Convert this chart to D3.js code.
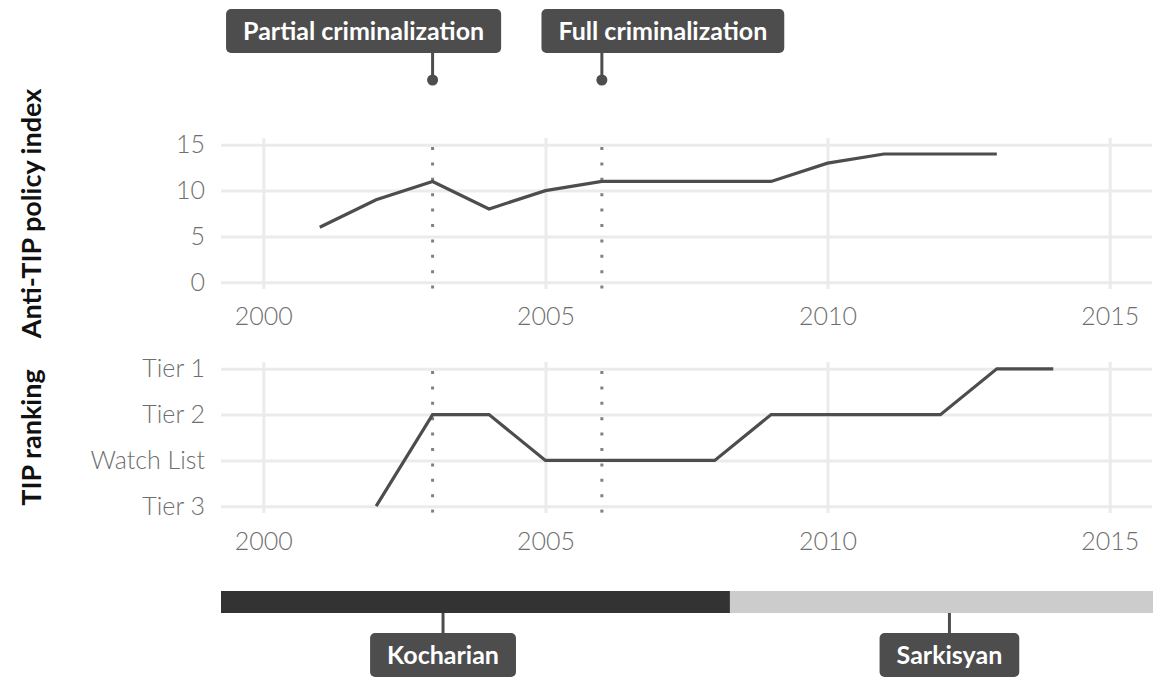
<!DOCTYPE html>
<html>
<head>
<meta charset="utf-8">
<script src="https://cdn.jsdelivr.net/npm/d3@7"></script>
<style>
  body { margin: 0; background: #fff; }
  svg { display: block; font-family: Lato, "Noto Sans", sans-serif; }
</style>
</head>
<body>
<svg id="chart" width="1153" height="678"></svg>
<script>
// policy index by year
var policyYears = [2001, 2002, 2003, 2004, 2005, 2006, 2007, 2008, 2009, 2010, 2011, 2012, 2013];
var policyValues = [6, 9, 11, 8, 10, 11, 11, 11, 11, 13, 14, 14, 14];

// TIP ranking by year (1 = Tier 3 ... 4 = Tier 1)
var rankYears = [2002, 2003, 2004, 2005, 2006, 2007, 2008, 2009, 2010, 2011, 2012, 2013, 2014];
var rankValues = [1, 3, 3, 2, 2, 2, 2, 3, 3, 3, 3, 4, 4];
var rankLabels = ["Tier 3", "Watch List", "Tier 2", "Tier 1"];

var yearTicks = [2000, 2005, 2010, 2015];
var policyTicks = [0, 5, 10, 15];

var eventNames = ["Partial criminalization", "Full criminalization"];
var eventYears = [2003, 2006];

var presidentNames = ["Kocharian", "Sarkisyan"];
var presidentStart = [1998.1, 2008.27];
var presidentEnd = [2008.27, 2016.05];
var presidentColors = ["#333333", "#cccccc"];

var svg = d3.select("#chart");
var gridColor = "#ebebeb";
var inkColor = "#4d4d4d";

var x = d3.scaleLinear().domain([1999.25, 2015.75]).range([221, 1152]);
var yTop = d3.scaleLinear().domain([-0.75, 15.75]).range([289, 138]);
var yBot = d3.scaleLinear().domain([0.85, 4.15]).range([513, 362]);

function drawPanel(y, ticks, fmt, labelY) {
    var top = y.range()[1], bottom = y.range()[0];
    var g = svg.append("g");

    // horizontal grid + y labels
    var ya = g.append("g")
        .attr("transform", "translate(" + x.range()[0] + ",0)")
        .call(d3.axisLeft(y).tickValues(ticks).tickFormat(fmt)
            .tickSize(-(x.range()[1] - x.range()[0])).tickPadding(16));
    ya.select(".domain").remove();
    ya.selectAll("line").attr("stroke", gridColor).attr("stroke-width", 3);
    ya.selectAll("text").attr("fill", "#6e6e6e").attr("font-size", 25)
        .attr("font-weight", 300).attr("font-family", "Lato, sans-serif");

    // vertical grid + x labels
    var xa = g.append("g")
        .attr("transform", "translate(0," + bottom + ")")
        .call(d3.axisBottom(x).tickValues(yearTicks).tickFormat(d3.format("d"))
            .tickSize(-(bottom - top)).tickPadding(labelY));
    xa.select(".domain").remove();
    xa.selectAll("line").attr("stroke", gridColor).attr("stroke-width", 3);
    xa.selectAll("text").attr("fill", "#6e6e6e").attr("font-size", 25)
        .attr("font-weight", 300).attr("font-family", "Lato, sans-serif");

    // event lines
    g.selectAll(".vline").data(eventYears).enter().append("line")
        .attr("x1", function(d) { return x(d); })
        .attr("x2", function(d) { return x(d); })
        .attr("y1", top).attr("y2", bottom)
        .attr("stroke", "#808080").attr("stroke-width", 3)
        .attr("stroke-dasharray", "3,12.4").attr("stroke-dashoffset", -9);
    return g;
}

var gTop = drawPanel(yTop, policyTicks, d3.format("d"), 18);
var gBot = drawPanel(yBot, [1, 2, 3, 4], function(d) { return rankLabels[d - 1]; }, 19);

var policyLine = d3.line()
    .x(function(d, i) { return x(policyYears[i]); })
    .y(function(d) { return yTop(d); });
gTop.append("path").datum(policyValues)
    .attr("d", policyLine).attr("fill", "none")
    .attr("stroke", inkColor).attr("stroke-width", 3.2);

var rankLine = d3.line()
    .x(function(d, i) { return x(rankYears[i]); })
    .y(function(d) { return yBot(d); });
gBot.append("path").datum(rankValues)
    .attr("d", rankLine).attr("fill", "none")
    .attr("stroke", inkColor).attr("stroke-width", 3.2);

// axis titles
svg.append("text")
    .attr("transform", "translate(41," + ((138 + 289) / 2) + ") rotate(-90)")
    .attr("text-anchor", "middle").attr("font-size", 27).attr("font-weight", 700)
    .attr("fill", "#111").text("Anti-TIP policy index");
svg.append("text")
    .attr("transform", "translate(41," + ((362 + 513) / 2) + ") rotate(-90)")
    .attr("text-anchor", "middle").attr("font-size", 27).attr("font-weight", 700)
    .attr("fill", "#111").text("TIP ranking");

// label box helper
function labelBox(cx, top, text) {
    var g = svg.append("g");
    var t = g.append("text")
        .attr("x", cx).attr("y", top + 31)
        .attr("text-anchor", "middle").attr("font-size", 25).attr("font-weight", 700)
        .attr("fill", "#fff").text(text);
    var w = t.node().getComputedTextLength() + 34;
    g.insert("rect", "text")
        .attr("x", cx - w / 2).attr("y", top)
        .attr("width", w).attr("height", 44)
        .attr("rx", 5).attr("fill", inkColor);
}

// event annotations at the top
var eventShift = [-69, 61];
eventYears.forEach(function(yr, i) {
    var cx = x(yr);
    svg.append("line").attr("x1", cx).attr("x2", cx).attr("y1", 52).attr("y2", 78)
        .attr("stroke", inkColor).attr("stroke-width", 3);
    svg.append("circle").attr("cx", cx).attr("cy", 80).attr("r", 5.5).attr("fill", inkColor);
    labelBox(cx + eventShift[i], 9, eventNames[i]);
});

// president bar
svg.append("clipPath").attr("id", "barclip").append("rect")
    .attr("x", x.range()[0]).attr("y", 0)
    .attr("width", x.range()[1] - x.range()[0] + 1).attr("height", 678);
svg.append("g").attr("clip-path", "url(#barclip)")
    .selectAll("rect").data(presidentNames).enter().append("rect")
    .attr("x", function(d, i) { return x(presidentStart[i]); })
    .attr("width", function(d, i) { return x(presidentEnd[i]) - x(presidentStart[i]); })
    .attr("y", 591).attr("height", 22)
    .attr("fill", function(d, i) { return presidentColors[i]; });

presidentNames.forEach(function(name, i) {
    var cx = x((presidentStart[i] + presidentEnd[i]) / 2);
    svg.append("line").attr("x1", cx).attr("x2", cx).attr("y1", 613).attr("y2", 634)
        .attr("stroke", inkColor).attr("stroke-width", 3);
    labelBox(cx, 633, name);
});
</script>
</body>
</html>
